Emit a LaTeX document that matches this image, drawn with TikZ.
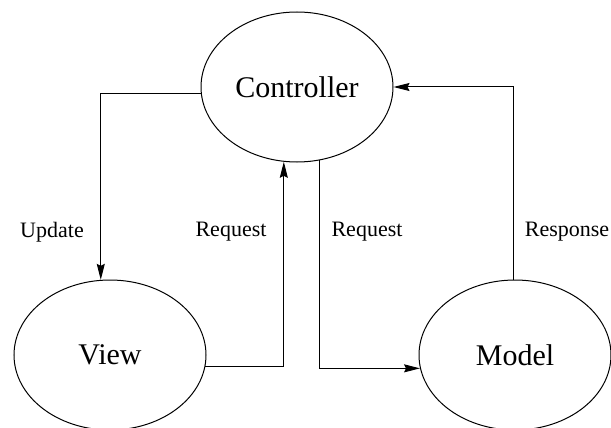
\documentclass[tikz,border=0pt]{standalone}
\usepackage{fontspec}
\setmainfont{Liberation Serif}
\usetikzlibrary{shapes.geometric,arrows.meta}
\tikzset{
  blob/.style={ellipse, draw, line width=1pt, minimum width=192pt, minimum height=150pt,
    inner sep=0pt, font=\fontsize{30}{32}\selectfont},
  conn/.style={draw, line width=1pt},
  arr/.style={conn, -{Stealth[length=16pt,width=8pt,inset=2pt]}},
  lbl/.style={font=\fontsize{22}{24}\selectfont, inner sep=0pt}
}
\begin{document}
\begin{tikzpicture}[x=1pt,y=-1pt]
  \useasboundingbox (0,0) rectangle (611,428);
  % the three components
  \node[blob] (ctrl)  at (297,87)  {Controller};
  \node[blob] (view)  at (110,355) {View};
  \node[blob] (model) at (515,355) {Model};

  % connectors
  \draw[arr] (ctrl.-176.4) -| (view.97.6);
  \draw[arr] (view.-7.1) -| (ctrl.-100.7);
  \draw[arr] (ctrl.-73.2) |- (model.-172.9);
  \draw[arr] (model.91.5) |- (ctrl.east);

  % labels
  \node[lbl] (lupd)  at (52,232)  {Update};
  \node[lbl] (lreq1) at (231,232) {Request};
  \node[lbl] (lreq2) at (367,232) {Request};
  \node[lbl] (lresp) at (567,232) {Response};
\end{tikzpicture}
\end{document}
